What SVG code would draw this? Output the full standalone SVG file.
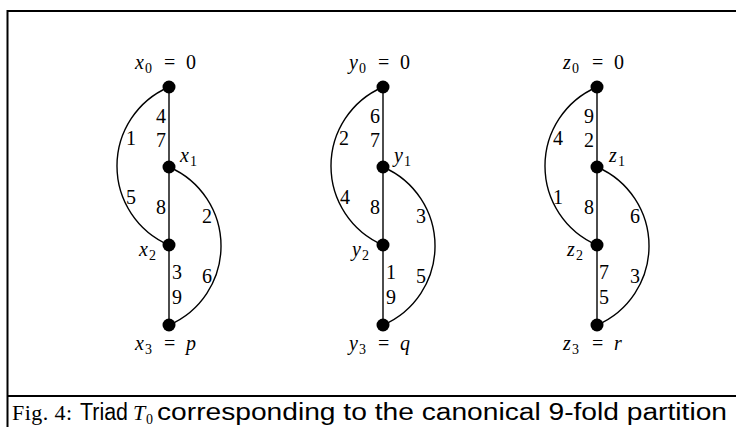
<svg xmlns="http://www.w3.org/2000/svg" width="736" height="427" viewBox="0 0 736 427">
<style>
.frame{stroke:#000;stroke-width:2;fill:none}
.e{stroke:#000;stroke-width:1.4;fill:none}
.n{fill:#000}
text{font-family:"Liberation Serif","Times New Roman",serif;font-size:20px;fill:#000}
.d{text-anchor:middle}
.it{font-style:italic}
.sub{font-size:14px}
.sans{font-family:"Liberation Sans",Arial,sans-serif;font-size:23px}
.cap{font-size:22px}
</style>
<defs>
<circle id="dot" r="6.5" class="n"/>
</defs>
<rect width="736" height="427" fill="#fff"/>
<g id="frame">
<path class="frame" d="M7,11 H736 M7.5,10 V427 M7,396 H736"/>
</g>
<g id="connectors">
<path class="e" d="M169,87 V325"/>
<path class="e" d="M169,87 A86,86 0 0,0 169,245"/>
<path class="e" d="M169,167 A86,86 0 0,1 169,325"/>
<path class="e" d="M383,87 V325"/>
<path class="e" d="M383,87 A86,86 0 0,0 383,245"/>
<path class="e" d="M383,167 A86,86 0 0,1 383,325"/>
<path class="e" d="M597,87 V325"/>
<path class="e" d="M597,87 A86,86 0 0,0 597,245"/>
<path class="e" d="M597,167 A86,86 0 0,1 597,325"/>
</g>
<g id="edge-labels">
<text class="d" x="161" y="123">4</text><text class="d" x="161" y="147">7</text>
<text class="d" x="131" y="145">1</text><text class="d" x="131" y="204">5</text>
<text class="d" x="161" y="214">8</text><text class="d" x="207" y="223">2</text>
<text class="d" x="177" y="279">3</text><text class="d" x="177" y="304">9</text>
<text class="d" x="207" y="283">6</text>

<text class="d" x="375" y="123">6</text><text class="d" x="375" y="147">7</text>
<text class="d" x="344" y="145">2</text><text class="d" x="345" y="204">4</text>
<text class="d" x="375" y="214">8</text><text class="d" x="421" y="223">3</text>
<text class="d" x="391" y="279">1</text><text class="d" x="391" y="304">9</text>
<text class="d" x="421" y="283">5</text>

<text class="d" x="589" y="123">9</text><text class="d" x="589" y="147">2</text>
<text class="d" x="558" y="145">4</text><text class="d" x="558" y="204">1</text>
<text class="d" x="589" y="214">8</text><text class="d" x="635" y="223">6</text>
<text class="d" x="604" y="279">7</text><text class="d" x="604" y="304">5</text>
<text class="d" x="635" y="283">3</text>
</g>
<g id="x0"><use href="#dot" x="169" y="87"/>
<text y="69"><tspan class="it" x="135">x</tspan><tspan class="sub" x="145" y="73">0</tspan><tspan x="164" y="69">=</tspan><tspan x="186">0</tspan></text></g>
<g id="x1"><use href="#dot" x="169" y="167"/>
<text y="162"><tspan class="it" x="180">x</tspan><tspan class="sub" x="190" y="166">1</tspan></text></g>
<g id="x2"><use href="#dot" x="169" y="245"/>
<text y="256"><tspan class="it" x="139">x</tspan><tspan class="sub" x="149" y="260">2</tspan></text></g>
<g id="x3"><use href="#dot" x="169" y="325"/>
<text y="350"><tspan class="it" x="135">x</tspan><tspan class="sub" x="145" y="354">3</tspan><tspan x="164" y="350">=</tspan><tspan class="it" x="186">p</tspan></text></g>

<g id="y0"><use href="#dot" x="383" y="87"/>
<text y="69"><tspan class="it" x="349">y</tspan><tspan class="sub" x="359" y="73">0</tspan><tspan x="378" y="69">=</tspan><tspan x="400">0</tspan></text></g>
<g id="y1"><use href="#dot" x="383" y="167"/>
<text y="162"><tspan class="it" x="394">y</tspan><tspan class="sub" x="404" y="166">1</tspan></text></g>
<g id="y2"><use href="#dot" x="383" y="245"/>
<text y="256"><tspan class="it" x="352">y</tspan><tspan class="sub" x="362" y="260">2</tspan></text></g>
<g id="y3"><use href="#dot" x="383" y="325"/>
<text y="350"><tspan class="it" x="349">y</tspan><tspan class="sub" x="359" y="354">3</tspan><tspan x="378" y="350">=</tspan><tspan class="it" x="400">q</tspan></text></g>

<g id="z0"><use href="#dot" x="597" y="87"/>
<text y="69"><tspan class="it" x="563">z</tspan><tspan class="sub" x="572" y="73">0</tspan><tspan x="592" y="69">=</tspan><tspan x="614">0</tspan></text></g>
<g id="z1"><use href="#dot" x="597" y="167"/>
<text y="162"><tspan class="it" x="609">z</tspan><tspan class="sub" x="618" y="166">1</tspan></text></g>
<g id="z2"><use href="#dot" x="597" y="245"/>
<text y="256"><tspan class="it" x="567">z</tspan><tspan class="sub" x="576" y="260">2</tspan></text></g>
<g id="z3"><use href="#dot" x="597" y="325"/>
<text y="350"><tspan class="it" x="563">z</tspan><tspan class="sub" x="572" y="354">3</tspan><tspan x="592" y="350">=</tspan><tspan class="it" x="614">r</tspan></text></g>

<g id="caption">
<text class="cap" x="12" y="420" textLength="60" lengthAdjust="spacing">Fig. 4:</text>
<text class="sans" x="80" y="420" textLength="48" lengthAdjust="spacingAndGlyphs">Triad</text>
<text class="cap" y="420"><tspan class="it" x="133">T</tspan><tspan class="sub" x="146" y="424">0</tspan></text>
<text class="sans" x="157" y="420" textLength="570" lengthAdjust="spacingAndGlyphs">corresponding to the canonical 9-fold partition</text>
</g>
</svg>
